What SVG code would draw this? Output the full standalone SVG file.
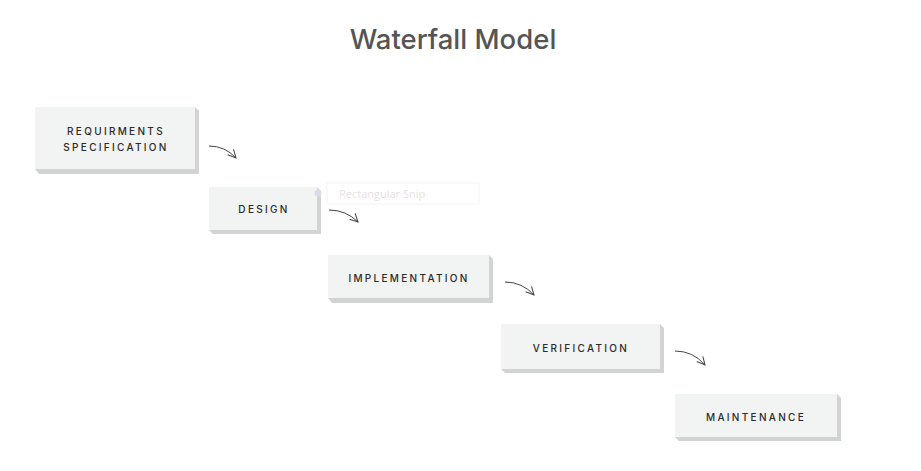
<svg xmlns="http://www.w3.org/2000/svg" width="921" height="471" viewBox="0 0 921 471">
<style>
.face{fill:#f2f3f3}
.side{fill:#d2d4d4}
.lbl{font-family:Inter,"Open Sans",sans-serif;font-size:10px;font-weight:500;letter-spacing:2.3px;fill:#2a2a2a;text-anchor:middle}
.arr{fill:none;stroke:#444;stroke-width:1}
</style>
<defs>
<marker id="ah" viewBox="0 0 10 10" refX="9" refY="5" markerWidth="10" markerHeight="10" markerUnits="userSpaceOnUse" orient="auto">
<polyline points="1,1 9,5 1,9" fill="none" stroke="#444" stroke-width="1"/>
</marker>
</defs>
<rect width="921" height="471" fill="#fff"/>
<text x="453" y="49" font-family="Inter,'Open Sans',sans-serif" font-size="27.5" font-weight="500" fill="#555" text-anchor="middle">Waterfall Model</text>
<g id="n1">
<polygon class="side" points="195,107 199,111 199,174 39,174 35,169 195,169"/>
<rect class="face" x="35" y="107" width="160" height="62"/>
<text class="lbl" x="116" y="135">REQUIRMENTS</text>
<text class="lbl" x="116" y="151">SPECIFICATION</text>
</g>
<g id="n2">
<polygon class="side" points="317,187 321,191 321,234 213,234 209,230 317,230"/>
<rect class="face" x="209" y="187" width="108" height="43"/>
<text class="lbl" x="264" y="213">DESIGN</text>
</g>
<g id="n3">
<polygon class="side" points="489,255 493,259 493,303 332,303 328,298 489,298"/>
<rect class="face" x="328" y="255" width="161" height="43"/>
<text class="lbl" x="409" y="282">IMPLEMENTATION</text>
</g>
<g id="n4">
<polygon class="side" points="660,324 664,328 664,373 505,373 501,369 660,369"/>
<rect class="face" x="501" y="324" width="159" height="45"/>
<text class="lbl" x="581" y="352">VERIFICATION</text>
</g>
<g id="n5">
<polygon class="side" points="837,394 841,398 841,441 679,441 675,437 837,437"/>
<rect class="face" x="675" y="394" width="162" height="43"/>
<text class="lbl" x="756" y="421">MAINTENANCE</text>
</g>
<g id="snip">
<rect x="327" y="183" width="152" height="21" fill="none" stroke="#f3f1f6" stroke-width="1"/>
<circle cx="318" cy="193" r="3.5" fill="#dcdae8"/>
<text x="339" y="198" font-family="'Open Sans','Noto Sans',sans-serif" font-size="11" fill="#eadfe3">Rectangular Snip</text>
</g>
<g id="connectors">
<path class="arr" d="M209,146 Q225,146 236,158" marker-end="url(#ah)"/>
<path class="arr" d="M329,210 Q346,210 358,222" marker-end="url(#ah)"/>
<path class="arr" d="M505,282 Q522,282 534,295" marker-end="url(#ah)"/>
<path class="arr" d="M675,351 Q693,351 705,365" marker-end="url(#ah)"/>
</g>
</svg>
